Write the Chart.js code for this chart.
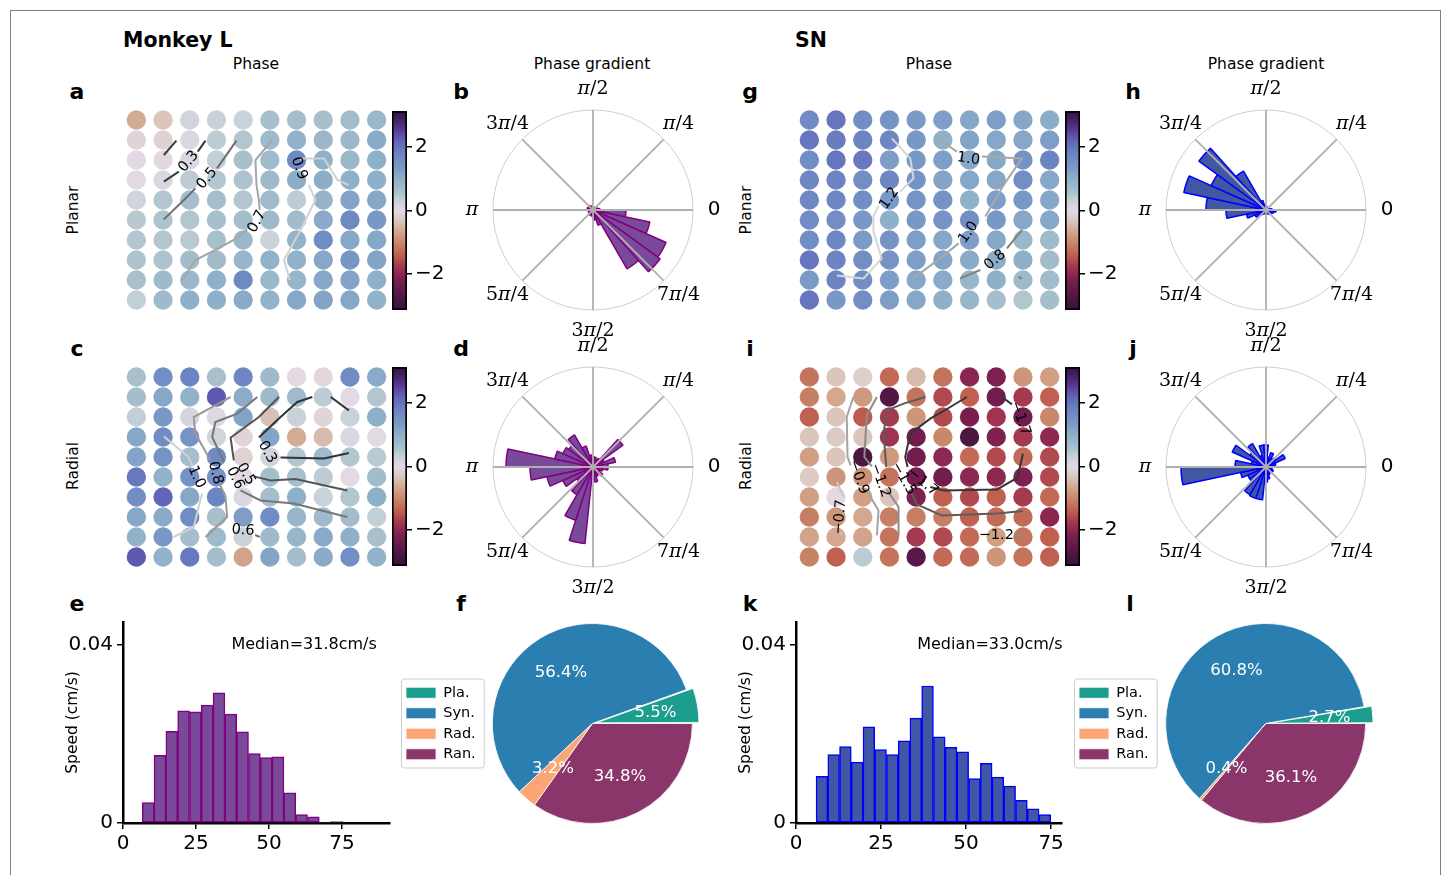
<!DOCTYPE html>
<html>
<head>
<meta charset="utf-8">
<title>Phase and phase gradient</title>
<script src="https://cdn.jsdelivr.net/npm/chart.js@4.4.1/dist/chart.umd.min.js"></script>
<style>
  body { margin: 0; background: #fff; }
  #page { position: relative; width: 1447px; height: 875px; overflow: hidden; font-family: "DejaVu Sans", sans-serif; color: #000; }
  #frame { position: absolute; left: 10px; top: 10px; width: 1429px; height: 900px; border: 1px solid #808080; }
  canvas { position: absolute; }
  .c { position: absolute; white-space: nowrap; transform: translate(-50%, -50%); }
  .l { position: absolute; white-space: nowrap; transform: translate(0, -50%); }
  .big { font-size: 20.5px; font-weight: bold; }
  .letter { font-size: 22px; font-weight: bold; }
  .title { font-size: 15.5px; }
  .row { font-size: 15.5px; transform: translate(-50%, -50%) rotate(-90deg); }
</style>
</head>
<body>
<div id="page">
  <div id="frame"></div>
  <div class="l big" style="left:123px;top:40px">Monkey L</div>
  <div class="l big" style="left:795px;top:40px">SN</div>
  <div class="c title" style="left:256px;top:64px">Phase</div>
  <div class="c title" style="left:592px;top:64px">Phase gradient</div>
  <div class="c title" style="left:929px;top:64px">Phase</div>
  <div class="c title" style="left:1266px;top:64px">Phase gradient</div>
  <div class="c letter" style="left:77px;top:91px">a</div>
  <div class="c letter" style="left:461px;top:91px">b</div>
  <div class="c letter" style="left:77px;top:348px">c</div>
  <div class="c letter" style="left:461px;top:348px">d</div>
  <div class="c letter" style="left:77px;top:603px">e</div>
  <div class="c letter" style="left:461px;top:603px">f</div>
  <div class="c letter" style="left:750px;top:91px">g</div>
  <div class="c letter" style="left:1133px;top:91px">h</div>
  <div class="c letter" style="left:750px;top:348px">i</div>
  <div class="c letter" style="left:1133px;top:348px">j</div>
  <div class="c letter" style="left:750px;top:603px">k</div>
  <div class="c letter" style="left:1130px;top:603px">l</div>
  <div class="c row" style="left:73px;top:210px">Planar</div>
  <div class="c row" style="left:73px;top:466px">Radial</div>
  <div class="c row" style="left:746px;top:210px">Planar</div>
  <div class="c row" style="left:746px;top:466px">Radial</div>
</div>
<script>
Chart.defaults.font.family = '"DejaVu Sans", sans-serif';
Chart.defaults.color = '#000';

// phase of each electrode (rad), rows top to bottom
const phaseA = [
  [-0.6, -0.35, 0.2, 0.3, 0.3, 0.6, 0.65, 0.6, 0.7, 0.8],
  [-0.1, -0.15, 0.1, 0.4, 0.5, 0.75, 0.95, 0.8, 0.8, 1.1],
  [0, -0.05, 0.1, 0.35, 0.6, 0.75, 1.7, 1.0, 0.8, 1.0],
  [0, 0.1, 0.4, 0.5, 0.55, 0.75, 1.05, 1.05, 1.0, 1.0],
  [0.2, 0.5, 0.65, 0.65, 0.5, 0.75, 0.4, 0.9, 1.2, 1.15],
  [0.45, 0.55, 0.5, 0.6, 0.65, 0.75, 0.7, 1.1, 1.7, 1.4],
  [0.5, 0.5, 0.45, 0.6, 0.8, 0.3, 0.95, 1.65, 1.15, 1.15],
  [0.55, 0.55, 0.7, 0.7, 0.85, 0.95, 0.95, 1.15, 1.45, 1.2],
  [0.6, 0.75, 0.8, 1.0, 1.7, 0.8, 0.85, 1.15, 1.2, 1.0],
  [0.35, 0.75, 1.0, 1.0, 1.1, 0.95, 1.15, 1.2, 1.15, 0.95]
];
const phaseC = [
  [0.6, 1.6, 1.8, 0.6, 1.75, 0.75, 0, -0.05, 1.65, 1.1],
  [0.65, 1.15, 0.95, 2.3, 1.05, 0.75, 0.75, 0.4, 0, 0.5],
  [0.35, 1.4, 0.15, 0.05, 1.2, -0.4, 0.3, -0.1, 0.3, 1.0],
  [1.15, 1.65, 1.5, 0.2, -0.1, 1.2, -0.6, -0.45, 0.1, 0],
  [1.2, 1.5, 0.65, 1.7, -0.15, 0.2, 0.5, 0.75, 0.5, 0.45],
  [1.95, 0.95, 1.5, 1.5, 0, 0.65, 0.6, 0.4, 0, 0.7],
  [1.6, 2.2, 1.15, 1.8, 0.1, 0.65, 1.0, 0.3, 0.5, 1.0],
  [1.15, 1.1, 1.65, 0.6, 1.3, 1.65, 0.85, 0.75, 0.7, 0.35],
  [0.95, 1.4, 0.65, 0.75, 0.3, 0.75, 0.85, 1.1, 1.0, 0.6],
  [2.3, 0.95, 1.95, 0.65, -0.7, 1.2, 0.65, 1.1, 1.6, 0.95]
];
const phaseG = [
  [1.65, 2.0, 1.6, 1.5, 1.35, 1.3, 1.15, 1.3, 1.15, 1.05],
  [2.0, 1.9, 1.8, 1.75, 1.4, 1.0, 1.2, 1.15, 1.15, 1.3],
  [1.6, 2.0, 1.95, 1.3, 1.4, 1.3, 1.15, 1.15, 1.5, 1.8],
  [1.75, 1.8, 1.6, 1.75, 1.5, 1.2, 1.15, 1.15, 1.6, 1.15],
  [1.75, 1.75, 1.6, 1.4, 1.5, 1.5, 1.0, 1.3, 1.4, 1.15],
  [1.65, 1.6, 1.4, 1.0, 1.4, 1.5, 1.6, 1.4, 1.15, 1.15],
  [1.6, 1.75, 1.35, 1.5, 1.3, 1.15, 1.3, 1.15, 0.8, 0.75],
  [2.0, 1.8, 1.6, 1.5, 1.3, 1.2, 1.1, 1.05, 1.0, 0.7],
  [1.35, 1.8, 1.6, 1.3, 1.15, 1.1, 0.85, 1.0, 0.75, 0.7],
  [2.0, 1.4, 1.6, 1.3, 1.15, 1.0, 0.85, 0.65, 0.5, 0.65]
];
const phaseI = [
  [-1.2, -0.35, -0.2, -1.3, -0.45, -1.2, -2.05, -2.15, -0.85, -0.75],
  [-1.1, -0.65, -0.8, -2.7, -1.2, -1.6, -1.4, -2.3, -1.75, -1.4],
  [-1.4, -0.35, -1.45, -1.75, -0.85, -1.6, -2.2, -1.8, -2.3, -1.0],
  [-0.35, -0.3, -0.35, -1.8, -2.3, -1.0, -2.8, -2.15, -1.75, -2.0],
  [-0.75, -0.35, -2.8, -0.8, -2.3, -2.0, -1.3, -1.6, -1.3, -1.6],
  [-0.3, -0.85, -0.9, -1.2, -2.3, -2.3, -2.0, -2.0, -2.15, -1.6],
  [-0.75, 0, -0.75, -0.35, -2.15, -1.4, -1.6, -1.4, -1.75, -1.3],
  [-1.1, -0.85, -0.65, -1.1, -1.1, -1.1, -1.4, -1.3, -1.3, -2.05],
  [-0.7, -0.65, -0.7, -1.2, -1.75, -1.6, -1.3, -0.75, -1.2, -1.4],
  [-1.05, -1.4, 0.4, -1.2, -2.6, -1.3, -1.3, -0.85, -1.2, -1.4]
];

// iso-phase contour paths in electrode units (col,row pairs)
const contoursA = [
  {color: '#3a3a3a', segs: [[1.03, 1.75, 1.5, 1.03], [1.03, 3.08, 1.59, 2.58], [2.3, 1.58, 2.59, 1.03]]},
  {color: '#6e6e6e', segs: [[1.03, 4.97, 1.78, 4.0, 2.21, 3.42], [3.02, 2.42, 3.75, 1.03]]},
  {color: '#a6a6a6', segs: [[1.71, 8.0, 2.21, 7.0, 2.96, 6.5, 3.65, 6.0, 4.15, 5.47], [4.62, 4.5, 4.59, 4.0, 4.5, 3.25, 4.46, 2.0, 5.09, 1.0]]},
  {color: '#d2d2d2', segs: [[5.75, 8.0, 5.53, 7.0, 6.15, 5.5, 6.71, 4.0, 6.46, 3.25], [6.13, 1.92, 7.03, 1.92, 7.53, 3.0, 7.96, 3.25]]}
];
const labelsA = [[1.96, 2.08, '0.3', -50], [2.65, 2.92, '0.5', -50], [4.52, 5.08, '0.7', -62], [6.09, 2.42, '0.9', 70]];

const contoursC = [
  {color: '#333333', segs: [[7.96, 1.67, 7.28, 1.0], [6.59, 1.0, 6.03, 1.25, 5.34, 2.08, 4.59, 3.03], [5.4, 4.03, 7.03, 4.08, 7.96, 3.8]]},
  {color: '#555555', segs: [[5.34, 1.0, 4.59, 2.0, 3.53, 3.03, 3.65, 4.17], [4.4, 4.97, 5.03, 5.17, 5.96, 5.1, 7.9, 5.67]]},
  {color: '#777777', segs: [[4.53, 1.0, 3.78, 1.83, 2.96, 2.25, 2.84, 3.0, 3.28, 4.25], [3.9, 5.67, 4.65, 6.17, 5.9, 6.33, 7.9, 7.0], [4.62, 8.0, 4.45, 7.9]]},
  {color: '#999999', segs: [[3.53, 1.0, 2.96, 1.42, 2.15, 2.0, 2.21, 2.83, 2.78, 4.17], [3.15, 5.42, 3.34, 6.0, 3.4, 7.0, 2.59, 8.0]]},
  {color: '#d0d0d0', segs: [[1.03, 2.97, 1.96, 4.0, 2.09, 4.42], [2.46, 5.83, 2.15, 7.5, 1.4, 8.0]]}
];
const labelsC = [[4.9, 3.75, '0.3', 60], [4.1, 4.85, '0.5', 60], [3.7, 5.05, '0.6', 65], [2.96, 4.8, '0.8', 75], [2.25, 5.0, '1.0', 65], [4.0, 7.67, '0.6', 5]];

const contoursG = [
  {color: '#d6d6d6', segs: [[3.09, 0.92, 3.78, 1.92, 3.9, 2.92, 3.4, 3.58], [2.59, 4.28, 2.4, 4.83, 2.4, 5.58, 2.71, 6.92, 2.03, 7.92, 1.03, 7.78]]},
  {color: '#a8a8a8', segs: [[4.78, 0.92, 5.53, 1.58], [6.46, 1.83, 7.96, 1.92, 7.28, 3.25, 6.59, 4.83], [5.59, 6.17, 4.9, 6.92, 3.88, 7.92]]},
  {color: '#808080', segs: [[7.96, 5.5, 7.4, 6.42], [6.4, 7.5, 5.65, 7.92], [7.84, 7.83, 7.96, 7.95]]}
];
const labelsG = [[5.96, 1.95, '1.0', 8], [3.0, 3.92, '1.2', -55], [5.96, 5.62, '1.0', -55], [6.96, 7.0, '0.8', -40]];

const contoursI = [
  {color: '#c8c8c8', segs: [[1.03, 5.25, 1.28, 6.0], [1.21, 7.75, 1.21, 7.92]]},
  {color: '#a4a4a4', segs: [[1.65, 1.0, 1.4, 2.0, 1.43, 4.0, 1.55, 4.42], [2.15, 5.67, 2.59, 6.67, 2.53, 7.92]]},
  {color: '#8c8c8c', segs: [[2.53, 1.0, 2.15, 1.92, 2.06, 4.0, 2.34, 4.47], [2.9, 5.63, 3.34, 6.5, 3.34, 7.92], [7.65, 7.92, 8.0, 7.92]]},
  {color: '#5c5c5c', segs: [[4.34, 1.0, 3.53, 1.33, 2.9, 1.67, 2.78, 2.83, 2.88, 4.5], [3.78, 5.67, 4.03, 6.37, 4.96, 6.92, 7.03, 6.83, 8.0, 6.7]]},
  {color: '#363636', segs: [[5.9, 1.0, 5.28, 1.5, 4.53, 2.08, 3.78, 2.83, 3.59, 4.0, 3.68, 4.5], [4.53, 5.5, 5.03, 5.67, 7.03, 5.62, 7.8, 5.03, 8.0, 3.83], [7.21, 1.0, 7.59, 1.37]]}
];
const labelsI = [[1.15, 7.0, '\u22120.7', -85], [1.84, 5.0, '\u22120.9', 70], [2.65, 5.17, '\u22121.2', 70],
  [3.53, 5.08, '\u22121.5', 60], [4.25, 5.25, '\u22121.7', 40], [7.9, 2.08, '\u22121.7', 70], [7.0, 7.92, '\u22121.2', 0]];

const cbarTicks = [-2, 0, 2];

// phase gradient direction histograms, 30 bins of 12 deg starting at 0 rad (counter-clockwise)
const roseB = [0.07, 0.05, 0.04, 0.03, 0.03, 0.02, 0.03, 0.02, 0.03, 0.04, 0.05, 0.04, 0.05, 0.06, 0.04,
  0.05, 0.04, 0.05, 0.04, 0.06, 0.05, 0.06, 0.07, 0.1, 0.16, 0.68, 0.83, 0.8, 0.58, 0.33];
const roseD = [0.15, 0.23, 0.12, 0.37, 0.1, 0.08, 0.1, 0.1, 0.12, 0.22, 0.37, 0.3, 0.33, 0.39, 0.87,
  0.63, 0.47, 0.33, 0.2, 0.32, 0.56, 0.77, 0.12, 0.15, 0.1, 0.08, 0.12, 0.08, 0.1, 0.15];
const roseH = [0.06, 0.04, 0.03, 0.03, 0.02, 0.03, 0.03, 0.04, 0.05, 0.1, 0.45, 0.83, 0.6, 0.84, 0.6,
  0.4, 0.2, 0.12, 0.07, 0.05, 0.04, 0.03, 0.04, 0.03, 0.04, 0.05, 0.05, 0.06, 0.08, 0.1];
const roseJ = [0.08, 0.1, 0.21, 0.12, 0.1, 0.15, 0.1, 0.22, 0.22, 0.12, 0.27, 0.2, 0.37, 0.15, 0.31,
  0.85, 0.26, 0.2, 0.2, 0.32, 0.33, 0.33, 0.15, 0.12, 0.08, 0.06, 0.07, 0.08, 0.06, 0.06];
const roseTickLabels = ['0', '\u03c0/4', '\u03c0/2', '3\u03c0/4', '\u03c0', '5\u03c0/4', '3\u03c0/2', '7\u03c0/4'];

// speed histograms (density)
const histE = [0.0046, 0.0152, 0.0206, 0.0252, 0.0250, 0.0265, 0.0293, 0.0245, 0.0205, 0.0156,
  0.0147, 0.0149, 0.0068, 0.0019, 0.0014, 0.0002, 0.0003];
const histEStart = 6.6, histEWidth = 4.04;
const histK = [0.0105, 0.0154, 0.0172, 0.0137, 0.0216, 0.0165, 0.0154, 0.0185, 0.0236, 0.0308,
  0.0194, 0.0170, 0.0160, 0.0100, 0.0134, 0.0103, 0.0083, 0.0051, 0.0032, 0.0019];
const histKStart = 5.9, histKWidth = 3.45;
const histXTicks = [0, 25, 50, 75];
const histYTicks = [0, 0.04];

// wave type fractions (%)
const pieLabels = ['Pla.', 'Syn.', 'Rad.', 'Ran.'];
const pieF = [5.5, 56.4, 3.2, 34.8];
const pieL = [2.7, 60.8, 0.4, 36.1];
const pieColors = ['#1b9e8d', '#2a7fb0', '#fca676', '#8b366b'];

// ---- colormap (twilight-like) ----
const cmapStops = [
  [-3.1416, '#2f1436'], [-2.6, '#5a1848'], [-2.2, '#7a1e50'], [-1.8, '#a03450'], [-1.4, '#c06050'],
  [-1.0, '#c8886a'], [-0.6, '#d4ac94'], [-0.3, '#dccac4'], [0, '#e2d9e2'], [0.3, '#c8d2d8'],
  [0.6, '#a8c0cc'], [1.0, '#8eb0c8'], [1.4, '#7898c6'], [1.8, '#6c84c2'], [2.2, '#6264b9'],
  [2.6, '#553490'], [3.1416, '#2f1436']
];
function hexRgb(h) {
  return [parseInt(h.slice(1, 3), 16), parseInt(h.slice(3, 5), 16), parseInt(h.slice(5, 7), 16)];
}
function phaseColor(v) {
  for (let i = 0; i < cmapStops.length - 1; i++) {
    const [v0, c0] = cmapStops[i], [v1, c1] = cmapStops[i + 1];
    if (v <= v1 || i === cmapStops.length - 2) {
      const t = Math.min(1, Math.max(0, (v - v0) / (v1 - v0)));
      const a = hexRgb(c0), b = hexRgb(c1);
      const m = a.map((x, k) => Math.round(x + (b[k] - x) * t));
      return `rgb(${m[0]},${m[1]},${m[2]})`;
    }
  }
}

function makeCanvas(left, top, w, h) {
  const c = document.createElement('canvas');
  c.width = w;
  c.height = h;
  c.style.left = left + 'px';
  c.style.top = top + 'px';
  document.getElementById('page').appendChild(c);
  return c;
}

const baseOpts = {animation: false, responsive: false, events: []};
const noLegend = {legend: {display: false}, tooltip: {enabled: false}};

// ---- phase maps ----
function contourText(labels) {
  return {
    id: 'contourText',
    afterDatasetsDraw(chart) {
      const {ctx, scales: {x, y}} = chart;
      ctx.save();
      ctx.font = '14.5px "DejaVu Sans"';
      ctx.fillStyle = '#000';
      ctx.textAlign = 'center';
      ctx.textBaseline = 'middle';
      labels.forEach(l => {
        ctx.save();
        ctx.translate(x.getPixelForValue(l[0]), y.getPixelForValue(l[1]));
        ctx.rotate(l[3] * Math.PI / 180);
        ctx.fillText(l[2], 0, 0);
        ctx.restore();
      });
      ctx.restore();
    }
  };
}

// left/top are the corner of the electrode area (10 x 10 cells)
function phaseMap(left, top, values, contours, labels) {
  const points = [], colors = [];
  values.forEach((row, r) => row.forEach((v, c) => {
    points.push({x: c, y: r});
    colors.push(phaseColor(v));
  }));
  const datasets = [{data: points, pointRadius: 9.7, pointHoverRadius: 9.7, pointBorderWidth: 0,
    pointBackgroundColor: colors, order: 2}];
  contours.forEach(cn => cn.segs.forEach(seg => {
    const d = [];
    for (let i = 0; i < seg.length; i += 2) d.push({x: seg[i], y: seg[i + 1]});
    datasets.push({data: d, showLine: true, borderColor: cn.color, borderWidth: 2, pointRadius: 0,
      pointHoverRadius: 0, order: 1});
  }));
  // padding of 10 keeps Chart.js from adding its own point overflow margin
  new Chart(makeCanvas(left - 10, top - 10, 287, 220), {
    type: 'scatter',
    data: {datasets},
    options: {...baseOpts, layout: {padding: 10}, plugins: noLegend,
      scales: {
        x: {display: false, min: -0.5, max: 9.5},
        y: {display: false, min: -0.5, max: 9.5, reverse: true}
      }},
    plugins: [contourText(labels)]
  });
}

function colorbar(left, top) {
  new Chart(makeCanvas(left, top, 60, 219), {
    type: 'bar',
    data: {labels: [''], datasets: [{
      data: [[-Math.PI, Math.PI]],
      backgroundColor: c => {
        const a = c.chart.chartArea;
        if (!a) return '#ccc';
        const g = c.chart.ctx.createLinearGradient(0, a.bottom, 0, a.top);
        cmapStops.forEach(s => g.addColorStop((s[0] + 3.1416) / 6.2832, s[1]));
        return g;
      },
      borderColor: '#000', borderWidth: 2, borderSkipped: false, barPercentage: 1, categoryPercentage: 1
    }]},
    options: {...baseOpts, plugins: noLegend,
      layout: {padding: {left: 2, right: 3, top: 10, bottom: 10}},
      scales: {
        x: {display: false},
        y: {position: 'right', min: -Math.PI, max: Math.PI,
          afterBuildTicks: s => { s.ticks = cbarTicks.map(v => ({value: v})); },
          afterFit: s => { s.width = 40; s.paddingTop = 0; s.paddingBottom = 0; },
          ticks: {font: {size: 20}, color: '#000', padding: 3, callback: v => v < 0 ? '\u2212' + Math.abs(v) : String(v)},
          grid: {drawOnChartArea: false, color: '#000', tickLength: 5, lineWidth: 1.5},
          border: {display: false}}
      }}
  });
}

// ---- rose plots ----
// tick label with an italic pi and upright digits
function drawAngleLabel(ctx, text, x, y) {
  const parts = text.split(/(\u03c0)/).filter(p => p !== '');
  const fonts = parts.map(p => p === '\u03c0' ? 'italic 19px "DejaVu Serif"' : '19px "DejaVu Serif"');
  let total = 0;
  const widths = parts.map((p, i) => { ctx.font = fonts[i]; const w = ctx.measureText(p).width; total += w; return w; });
  let cx = x - total / 2;
  ctx.textAlign = 'left';
  parts.forEach((p, i) => { ctx.font = fonts[i]; ctx.fillText(p, cx, y); cx += widths[i]; });
}

const roseFrame = {
  id: 'roseFrame',
  beforeDatasetsDraw(chart) {
    const s = chart.scales.r, ctx = chart.ctx;
    ctx.save();
    ctx.strokeStyle = '#cfcfcf';
    ctx.lineWidth = 1;
    ctx.beginPath();
    ctx.arc(s.xCenter, s.yCenter, s.drawingArea, 0, 2 * Math.PI);
    ctx.stroke();
    ctx.restore();
  },
  afterDatasetsDraw(chart) {
    const s = chart.scales.r, ctx = chart.ctx, R = s.drawingArea;
    ctx.save();
    ctx.strokeStyle = '#b0b0b0';
    ctx.lineWidth = 1.8;
    for (let k = 0; k < 8; k++) {
      const a = k * Math.PI / 4;
      ctx.beginPath();
      ctx.moveTo(s.xCenter, s.yCenter);
      ctx.lineTo(s.xCenter + R * Math.cos(a), s.yCenter - R * Math.sin(a));
      ctx.stroke();
    }
    ctx.fillStyle = '#000';
    ctx.textBaseline = 'middle';
    roseTickLabels.forEach((t, k) => {
      const a = k * Math.PI / 4;
      const x = s.xCenter + 1.21 * R * Math.cos(a), y = s.yCenter - 1.21 * R * Math.sin(a);
      if (k === 0) {
        ctx.font = '20px "DejaVu Sans"';
        ctx.textAlign = 'center';
        ctx.fillText(t, x, y);
      } else {
        drawAngleLabel(ctx, t, x, y);
      }
    });
    ctx.restore();
  }
};

function roseChart(left, top, bins, fill, edge) {
  new Chart(makeCanvas(left, top, 300, 270), {
    type: 'polarArea',
    data: {labels: bins.map((_, i) => i), datasets: [{
      data: bins.slice().reverse(), backgroundColor: fill, borderColor: edge, borderWidth: 1.5
    }]},
    options: {...baseOpts, plugins: noLegend,
      layout: {padding: {left: 50, right: 50, top: 35, bottom: 35}},
      scales: {r: {min: 0, max: 1, startAngle: 90, ticks: {display: false}, grid: {display: false},
        angleLines: {display: false}, pointLabels: {display: false}}}},
    plugins: [roseFrame]
  });
}

// ---- speed histograms ----
function medianLabel(text, xv) {
  return {
    id: 'medianLabel',
    afterDraw(chart) {
      const {ctx, scales: {x, y}} = chart;
      ctx.save();
      ctx.font = '16px "DejaVu Sans"';
      ctx.fillStyle = '#000';
      ctx.textAlign = 'center';
      ctx.textBaseline = 'middle';
      ctx.fillText(text, x.getPixelForValue(xv), y.getPixelForValue(0.04));
      ctx.restore();
    }
  };
}

function histChart(left, values, start, width, xMax, padRight, fill, edge, median, medianX) {
  const data = values.map((v, i) => ({x: start + width * (i + 0.5), y: v}));
  const axisGrid = {drawOnChartArea: false, color: '#000', tickLength: 6, lineWidth: 1.5, offset: false};
  new Chart(makeCanvas(left, 612, 345, 245), {
    type: 'bar',
    data: {datasets: [{data, backgroundColor: fill, borderColor: edge, borderWidth: 1.5,
      barPercentage: 1, categoryPercentage: 1, borderSkipped: false}]},
    options: {...baseOpts, plugins: noLegend,
      layout: {padding: {left: 0, right: padRight, top: 10, bottom: 0}},
      scales: {
        x: {type: 'linear', min: 0, max: xMax, offset: false,
          afterBuildTicks: s => { s.ticks = histXTicks.map(v => ({value: v})); },
          afterFit: s => { s.height = 34; s.paddingLeft = 0; s.paddingRight = 0; },
          ticks: {font: {size: 20}, color: '#000', padding: 3},
          grid: axisGrid, border: {color: '#000', width: 2.5}},
        y: {min: 0, max: 0.0452,
          afterBuildTicks: s => { s.ticks = histYTicks.map(v => ({value: v})); },
          afterFit: s => { s.width = 68; s.paddingTop = 0; s.paddingBottom = 0; },
          ticks: {font: {size: 20}, color: '#000', padding: 4, callback: v => String(v)},
          grid: axisGrid, border: {color: '#000', width: 2.5},
          title: {display: true, text: 'Speed (cm/s)', font: {size: 15.5}, color: '#000', padding: {top: 9, bottom: 0}}}
      }},
    plugins: [medianLabel(median, medianX)]
  });
}

// ---- pies ----
const pieText = {
  id: 'pieText',
  afterDatasetsDraw(chart) {
    const ctx = chart.ctx, meta = chart.getDatasetMeta(0);
    ctx.save();
    ctx.font = '16.5px "DejaVu Sans"';
    ctx.fillStyle = '#fff';
    ctx.textAlign = 'center';
    ctx.textBaseline = 'middle';
    meta.data.forEach((arc, i) => {
      const mid = (arc.startAngle + arc.endAngle) / 2;
      const r = arc.outerRadius * 0.6 + (arc.options.offset || 0) / 4;
      ctx.fillText(chart.data.datasets[0].data[i].toFixed(1) + '%', arc.x + Math.cos(mid) * r, arc.y + Math.sin(mid) * r);
    });
    ctx.restore();
  }
};
const legendFrame = {
  id: 'legendFrame',
  afterDraw(chart) {
    const boxes = chart.legend.legendHitBoxes;
    if (!boxes || !boxes.length) return;
    const x0 = Math.min(...boxes.map(b => b.left)) - 5;
    const x1 = Math.max(...boxes.map(b => b.left + b.width)) + 8;
    const y0 = Math.min(...boxes.map(b => b.top)) - 7;
    const y1 = Math.max(...boxes.map(b => b.top + b.height)) + 6;
    const ctx = chart.ctx;
    ctx.save();
    ctx.strokeStyle = '#cccccc';
    ctx.lineWidth = 1;
    ctx.beginPath();
    ctx.roundRect(x0 + 0.5, y0 + 0.5, x1 - x0, y1 - y0, 3);
    ctx.stroke();
    ctx.restore();
  }
};

function pieChart(left, padRight, values) {
  // Chart.js runs clockwise, so feed the slices in reverse to get matplotlib's counter-clockwise order
  const idx = [3, 2, 1, 0];
  new Chart(makeCanvas(left, 613, 310, 221), {
    type: 'pie',
    data: {labels: idx.map(i => pieLabels[i]), datasets: [{
      data: idx.map(i => values[i]),
      backgroundColor: idx.map(i => pieColors[i]),
      borderColor: '#fff', borderWidth: 0.8,
      offset: idx.map(i => i === 0 ? 16 : 0)
    }]},
    options: {...baseOpts, rotation: 90, radius: 100,
      layout: {padding: {left: 0, right: padRight, top: 0, bottom: 0}},
      plugins: {tooltip: {enabled: false},
        legend: {position: 'left', labels: {boxWidth: 30, boxHeight: 11, padding: 6, color: '#000',
          font: {size: 14.5}, sort: (a, b) => b.index - a.index}}}},
    plugins: [pieText, legendFrame]
  });
}

// ---- build the figure ----
phaseMap(122.7, 110, phaseA, contoursA, labelsA);
phaseMap(122.7, 366.7, phaseC, contoursC, labelsC);
phaseMap(796, 110, phaseG, contoursG, labelsG);
phaseMap(796, 366.7, phaseI, contoursI, labelsI);
colorbar(390, 100.5);
colorbar(390, 357.2);
colorbar(1063, 100.5);
colorbar(1063, 357.2);

roseChart(443.3, 75, roseB, '#7a4a9a', '#800080');
roseChart(443.3, 331.7, roseD, '#7a4a9a', '#800080');
roseChart(1116, 75, roseH, '#4257a3', '#0000ff');
roseChart(1116, 331.7, roseJ, '#4257a3', '#0000ff');

histChart(55, histE, histEStart, histEWidth, 91.4, 10, '#7a4a9a', '#800080', 'Median=31.8cm/s', 62);
histChart(728, histK, histKStart, histKWidth, 78.2, 11, '#4257a3', '#0000ff', 'Median=33.0cm/s', 57);

pieChart(399.5, 11, pieF);
pieChart(1072.7, 10.4, pieL);
</script>
</body>
</html>
